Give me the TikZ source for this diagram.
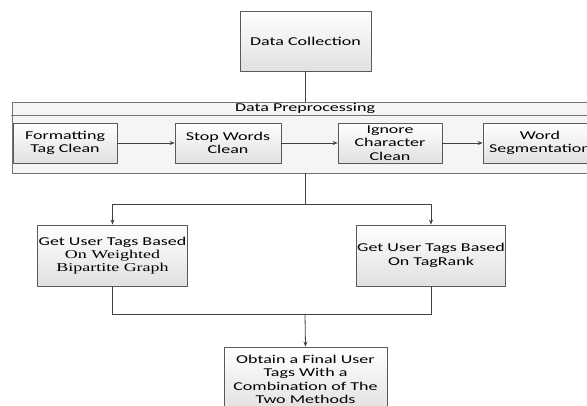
\documentclass[tikz,border=0pt]{standalone}
\usepackage{fontspec}
\setmainfont[FakeStretch=1.5]{Carlito}
\newfontfamily\serfont[FakeStretch=1.5]{Liberation Serif}
\usetikzlibrary{arrows.meta}

\begin{document}
\begin{tikzpicture}[line cap=round,line join=round,>={Stealth[length=5pt,width=4pt]},x=1pt,y=-1pt,
	box/.style={draw=black!65,line width=0.8pt,top color=white,bottom color=black!12,align=center,
		inner sep=1pt,font=\fontsize{12}{13.3}\selectfont},
	link/.style={draw=black!75,line width=0.8pt}]
				\useasboundingbox (0,0) rectangle (587,405);
				\clip (0,0) rectangle (587,405);
				% data preprocessing frame
				\node[draw=black!55,line width=0.8pt,fill=black!4,minimum width=588pt,minimum height=71pt,inner sep=0pt] (prep) at (306,137.5) {};
				\draw[draw=black!55,line width=0.8pt] (prep.west |- 0,115) -- (prep.east |- 0,115);
				\node[font=\fontsize{12}{13.3}\selectfont,inner sep=0pt] (preptitle) at (305,108.5) {Data Preprocessing};
				\node[box,minimum width=131pt,minimum height=60pt] (coll) at (305.5,41) {Data Collection};
				\node[box,minimum width=104pt,minimum height=40pt] (fmt) at (65,143) {Formatting\\Tag Clean};
				\node[box,minimum width=106pt,minimum height=40pt] (stop) at (228,143) {Stop Words\\Clean};
				\node[box,minimum width=104pt,minimum height=40pt] (ign) at (390,143) {Ignore\\Character\\Clean};
				\node[box,minimum width=114pt,minimum height=40pt] (seg) at (540,143) {Word\\Segmentation};
				\node[box,minimum width=145pt,minimum height=61pt] (bip) at (112.5,255.5) {Get User Tags Based\\{\serfont On Weighted}\\{\serfont Bipartite Graph}};
				\node[box,minimum width=146pt,minimum height=61pt] (rank) at (431,255.5) {Get User Tags Based\\On TagRank};
				\node[box,minimum width=163pt,minimum height=65pt] (fin) at (305.5,379.5) {Obtain a Final User\\Tags With a\\Combination of The\\Two Methods};
				\coordinate (split) at (305,204);
				\coordinate (join) at (305,314);
				\draw[link] (coll.south) -- (coll.south |- prep.north);
				\draw[link,->] (fmt) -- (stop);
				\draw[link,->] (stop) -- (ign);
				\draw[link,->] (ign) -- (seg);
				\draw[link] (split |- prep.south) -- (split);
				\draw[link,->] (split) -| (bip.north);
				\draw[link,->] (split) -| (rank.north);
				\draw[link] (bip.south) |- (join);
				\draw[link] (rank.south) |- (join);
				\draw[link,->] (join) -- (fin.north);
			\end{tikzpicture}
\end{document}
